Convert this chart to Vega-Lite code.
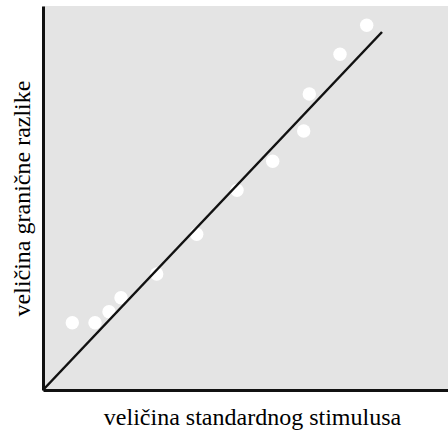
{
  "$schema": "https://vega.github.io/schema/vega-lite/v6.json",
  "autosize": {"type": "none"},
  "padding": {"left": 43, "top": 6, "right": 0, "bottom": 40},
  "width": 405,
  "height": 384,
  "background": "white",
  "config": {
    "view": {"fill": "#e4e4e4", "stroke": null},
    "font": "Liberation Serif",
    "axis": {"titleFont": "Liberation Serif", "titleFontSize": 24, "titleFontWeight": "normal"}
  },
  "datasets": {
    "points": [
      {"x": 29.3, "y": 67.3},
      {"x": 52, "y": 67.3},
      {"x": 66, "y": 78.3},
      {"x": 78, "y": 92.3},
      {"x": 113.7, "y": 116},
      {"x": 153.7, "y": 155.7},
      {"x": 194, "y": 199.7},
      {"x": 229.7, "y": 228.7},
      {"x": 260.7, "y": 259},
      {"x": 266.3, "y": 296},
      {"x": 297, "y": 335.7},
      {"x": 323.7, "y": 364.7}
    ],
    "fit": [
      {"x": 0, "y": 0},
      {"x": 339, "y": 358}
    ]
  },
  "layer": [
    {
      "data": {"name": "points"},
      "mark": {"type": "point", "filled": true, "color": "white", "opacity": 1, "size": 180},
      "encoding": {
        "x": {
          "field": "x", "type": "quantitative",
          "scale": {"domain": [0, 405], "nice": false, "zero": false},
          "axis": {
            "title": "veličina standardnog stimulusa",
            "titleColor": "black", "titleBaseline": "alphabetic", "titleY": 34, "titleX": 209,
            "labels": false, "ticks": false, "grid": false,
            "domainColor": "#111", "domainWidth": 3
          }
        },
        "y": {
          "field": "y", "type": "quantitative",
          "scale": {"domain": [0, 384], "nice": false, "zero": false},
          "axis": {
            "title": "veličina granične razlike",
            "titleColor": "black", "titleBaseline": "alphabetic", "titleX": -14, "titleY": 192,
            "labels": false, "ticks": false, "grid": false,
            "domainColor": "#111", "domainWidth": 3
          }
        }
      }
    },
    {
      "data": {"name": "fit"},
      "mark": {"type": "line", "color": "#111", "strokeWidth": 2.5},
      "encoding": {
        "x": {"field": "x", "type": "quantitative"},
        "y": {"field": "y", "type": "quantitative"}
      }
    }
  ]
}
